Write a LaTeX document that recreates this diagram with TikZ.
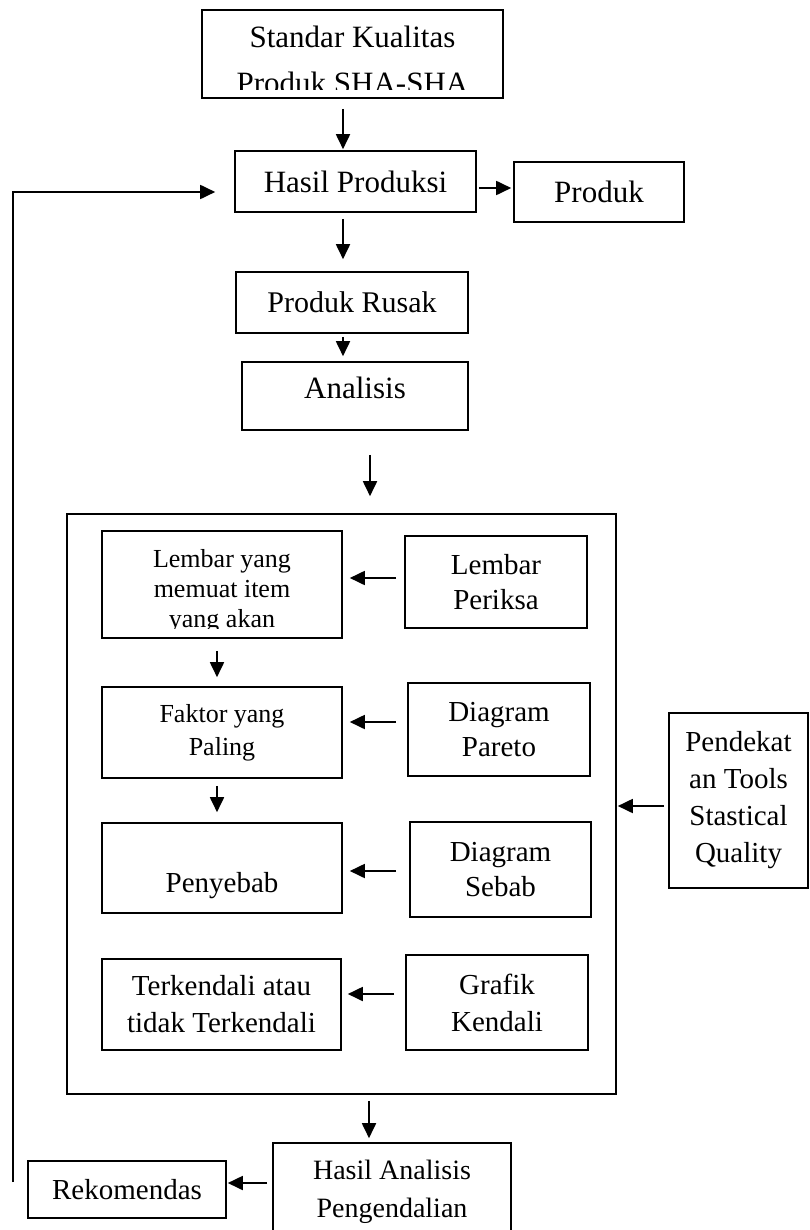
\documentclass[tikz,border=0pt]{standalone}
\usepackage{fontspec}
\setmainfont{Liberation Serif}
\usetikzlibrary{arrows.meta}

\tikzset{
  blok/.style={draw, line width=1.6pt, inner sep=2pt, align=center},
  arr/.style={-{Triangle[length=15pt,width=14pt]}, line width=1.8pt},
  bigfont/.style={font=\fontsize{31}{43}\selectfont},
  midfont/.style={font=\fontsize{29}{37}\selectfont},
}

\begin{document}
\begin{tikzpicture}[x=1pt, y=-1pt]

  \useasboundingbox (0,0) rectangle (809,1230);

  % Main flow at the top
  \node[blok, minimum width=301pt, minimum height=88pt] (std) at (352.5,54) {};
  \begin{scope}
    \clip (std.north west) rectangle ([yshift=9pt]std.south east);
    \node[font=\fontsize{31}{46}\selectfont, align=center] (stdtext) at ([yshift=-5.7pt]std.center) {Standar Kualitas\\Produk SHA-SHA};
  \end{scope}
  \node[blok, bigfont, minimum width=241pt, minimum height=61pt] (hp) at (355.5,181.5) {Hasil Produksi};
  \node[blok, bigfont, minimum width=170pt, minimum height=60pt] (prod) at (599,192) {Produk};
  \node[blok, font=\fontsize{30}{36}\selectfont, minimum width=232pt, minimum height=61pt] (rusak) at (352,302.5) {Produk Rusak};
  \node[blok, bigfont, minimum width=226pt, minimum height=68pt, text height=4pt, text depth=0pt] (anl) at (355,396) {Analisis};

  % Big frame with the tools
  \node[blok, minimum width=549pt, minimum height=580pt] (outer) at (341.5,804) {};

  \node[blok, minimum width=240pt, minimum height=107pt] (lyang) at (222,584.5) {};
  \begin{scope}
    \clip (lyang.north west) rectangle ([yshift=10pt]lyang.south east);
    \node[font=\fontsize{26}{30}\selectfont, align=center] (lyangtext) at ([yshift=-6.5pt]lyang.center) {Lembar yang\\memuat item\\yang akan};
  \end{scope}
  \node[blok, font=\fontsize{29}{35}\selectfont, minimum width=182pt, minimum height=92pt] (lper) at (496,582) {Lembar\\Periksa};

  \node[blok, font=\fontsize{26}{33}\selectfont, minimum width=240pt, minimum height=91pt] (faktor) at (222,732.5) {Faktor yang\\Paling};
  \node[blok, font=\fontsize{29}{35}\selectfont, minimum width=182pt, minimum height=93pt] (pareto) at (499,729.5) {Diagram\\Pareto};

  \node[blok, midfont, minimum width=240pt, minimum height=90pt, text height=48pt, text depth=0pt] (peny) at (222,868) {Penyebab};
  \node[blok, font=\fontsize{29}{35}\selectfont, minimum width=181pt, minimum height=95pt] (sebab) at (500.5,869.5) {Diagram\\Sebab};

  \node[blok, midfont, minimum width=239pt, minimum height=91pt] (terk) at (221.5,1004.5) {Terkendali atau\\tidak Terkendali};
  \node[blok, midfont, minimum width=182pt, minimum height=95pt] (grafik) at (497,1002.5) {Grafik\\Kendali};

  \node[blok, midfont, minimum width=139pt, minimum height=175pt] (pend) at (738.5,800.5) {Pendekat\\an Tools\\Stastical\\Quality};

  % Bottom
  \node[blok, font=\fontsize{28}{38}\selectfont, minimum width=238pt, minimum height=98pt] (hanl) at (392,1192) {Hasil Analisis\\Pengendalian};
  \node[blok, midfont, minimum width=198pt, minimum height=57pt] (rek) at (127,1189.5) {Rekomendas};

  % Arrows
  \draw[arr, shorten <=10pt, shorten >=1pt] ([xshift=-9.5pt]std.south) -- ([xshift=-12.5pt]hp.north);
  \draw[arr, shorten <=2pt, shorten >=2pt] ([yshift=-6.5pt]hp.east) -- ([yshift=4pt]prod.west);
  \draw[arr, shorten <=6pt, shorten >=12pt] ([xshift=-12.5pt]hp.south) -- ([xshift=-9pt]rusak.north);
  \draw[arr, shorten <=3pt, shorten >=5pt] ([xshift=-9pt]rusak.south) -- ([xshift=-12pt]anl.north);
  \draw[arr, shorten <=24pt, shorten >=17pt] ([xshift=15pt]anl.south) -- ([xshift=28.5pt]outer.north);

  \draw[arr, shorten <=8pt, shorten >=7pt] ([yshift=4pt]lper.west) -- ([yshift=6.5pt]lyang.east);
  \draw[arr, shorten <=12pt, shorten >=9pt] ([xshift=-5pt]lyang.south) -- ([xshift=-5pt]faktor.north);
  \draw[arr, shorten <=11pt, shorten >=7pt] ([yshift=7.5pt]pareto.west) -- ([yshift=10.5pt]faktor.east);
  \draw[arr, shorten <=7pt, shorten >=10pt] ([xshift=-5pt]faktor.south) -- ([xshift=-5pt]peny.north);
  \draw[arr, shorten <=13pt, shorten >=7pt] ([yshift=-1.5pt]sebab.west) -- ([yshift=-3pt]peny.east);
  \draw[arr, shorten <=11pt, shorten >=6pt] ([yshift=8.5pt]grafik.west) -- ([yshift=10.5pt]terk.east);
  \draw[arr, shorten <=4pt, shorten >=1pt] ([yshift=-5.5pt]pend.west) -- ([yshift=-2pt]outer.east);

  \draw[arr, shorten <=6pt, shorten >=4pt] ([xshift=27.5pt]outer.south) -- ([xshift=-23pt]hanl.north);
  \draw[arr, shorten <=5pt, shorten >=1pt] ([yshift=9pt]hanl.west) -- ([yshift=6.5pt]rek.east);

  % Feedback line on the left
  \coordinate (fbstart) at (12.7,1182);
  \draw[arr, shorten >=19pt] (fbstart) |- ([yshift=-10.5pt]hp.west);

\end{tikzpicture}
\end{document}
